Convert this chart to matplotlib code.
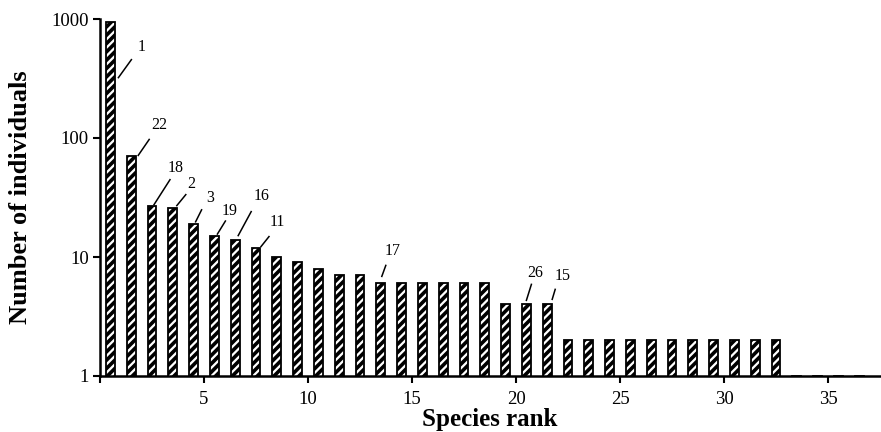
import numpy as np
import matplotlib
matplotlib.use("Agg")
import matplotlib.pyplot as plt

# abundance of each species, ordered by rank (1..37)
ranks = np.arange(1, 38)
counts = [950, 70, 27, 26, 19, 15, 14, 12, 10, 9, 8, 7, 7,
          6, 6, 6, 6, 6, 6, 4, 4, 4,
          2, 2, 2, 2, 2, 2, 2, 2, 2, 2, 2,
          1, 1, 1, 1]

# species numbers written above some bars
label_ranks = [1, 2, 3, 4, 5, 6, 7, 8, 14, 21, 22]
label_texts = ["1", "22", "18", "2", "3", "19", "16", "11", "17", "26", "15"]

# leader line start / end and text offsets from bar top (pixels, y down)
line_start = [(8, 56), (7, -1), (2, -1), (4, -2), (2, -2), (3, -2), (3, -4), (5, -1), (1, -7), (0, -4), (5, -5)]
line_end = [(21, 38), (18, -17), (18, -26), (13, -13), (8, -14), (11, -15), (16, -28), (13, -11), (5, -18), (5, -20), (8, -15)]
text_off = [(31, 25), (28, -31), (24, -38), (18, -24), (17, -26), (15, -25), (26, -44), (21, -26), (12, -32), (9, -31), (15, -28)]

plt.rcParams["font.family"] = ["Liberation Serif", "DejaVu Serif"]
plt.rcParams["hatch.linewidth"] = 2.6

fig = plt.figure(figsize=(8.81, 4.32), dpi=100)
ax = fig.add_axes([100 / 881, 56 / 432, 780 / 881, 357 / 432])
ax.set_yscale("log")

xpos = ranks - 0.5
ax.bar(xpos, counts, width=0.43, color="white", edgecolor="black",
       hatch="////", linewidth=1.3)

ax.set_ylim(1, 1000)
ax.set_xlim(0, 37.5)
ax.set_yticks([1, 10, 100, 1000])
ax.set_yticklabels(["1", "10", "100", "1000"])
ax.minorticks_off()
ax.set_xticks([0, 5, 10, 15, 20, 25, 30, 35])
ax.set_xticklabels(["", "5", "10", "15", "20", "25", "30", "35"])
ax.tick_params(axis="both", direction="out", length=5, width=1.5, labelsize=13.5, pad=3)
ax.tick_params(axis="x", pad=6)

for s in ["top", "right"]:
    ax.spines[s].set_visible(False)
for s in ["left", "bottom"]:
    ax.spines[s].set_linewidth(1.8)

ax.set_xlabel("Species rank", fontsize=18, fontweight="bold", labelpad=0)
ax.set_ylabel("Number of individuals", fontsize=19, fontweight="bold", labelpad=14)

# leader lines and labels, placed in pixel offsets from the bar tops
fig.canvas.draw()
inv = ax.transData.inverted()
for r, t, ls, le, to in zip(label_ranks, label_texts, line_start, line_end, text_off):
    px, py = ax.transData.transform((r - 0.5, counts[r - 1]))
    p0 = inv.transform((px + ls[0], py - ls[1]))
    p1 = inv.transform((px + le[0], py - le[1]))
    ax.plot([p0[0], p1[0]], [p0[1], p1[1]], color="black", lw=1.1, clip_on=False)
    ptxt = inv.transform((px + to[0], py - to[1]))
    ax.text(ptxt[0], ptxt[1], t, fontsize=11.5, ha="center", va="center")

fig.savefig("out.png", dpi=100)
